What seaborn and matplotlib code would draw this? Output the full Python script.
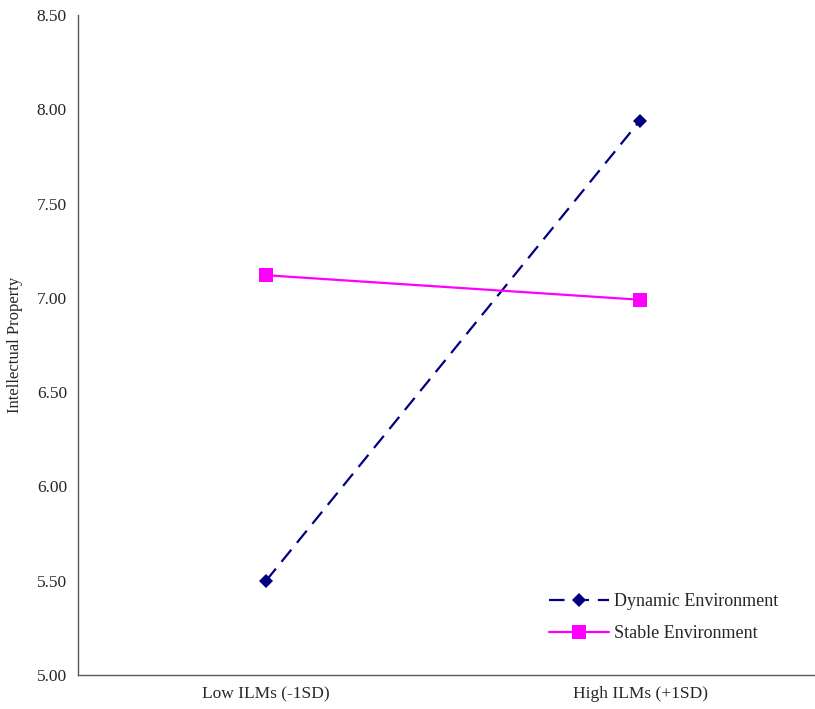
import pandas as pd
import matplotlib
matplotlib.use("Agg")
import matplotlib.pyplot as plt
import seaborn as sns

# Dati del grafico
categorie = ["Low ILMs (-1SD)", "High ILMs (+1SD)"]
dinamico = [5.50, 7.94]
stabile = [7.12, 6.99]
serie = ["Dynamic Environment", "Stable Environment"]
y_ticks = [5.00, 5.50, 6.00, 6.50, 7.00, 7.50, 8.00, 8.50]

df = pd.DataFrame({
    "livello": categorie * 2,
    "valore": dinamico + stabile,
    "serie": [serie[0]] * 2 + [serie[1]] * 2,
})

sns.set_style("white")
plt.rcParams["font.family"] = ["Liberation Serif", "DejaVu Serif"]

fig = plt.figure(figsize=(8.15, 7.09), dpi=100)
ax = fig.add_axes([78 / 815, 34 / 709, 737 / 815, 660 / 709])

sns.lineplot(
    data=df, x="livello", y="valore", hue="serie", style="serie",
    palette={serie[0]: "#000080", serie[1]: "#FF00FF"},
    markers={serie[0]: "D", serie[1]: "s"},
    dashes={serie[0]: (7, 4), serie[1]: ""},
    markersize=10, linewidth=1.6, markeredgewidth=0, ax=ax,
)
# marker diamante piu piccolo
for line in ax.get_lines():
    if line.get_marker() == "D":
        line.set_markersize(7)

ax.set_xlim(-0.503, 1.468)
ax.set_ylim(5.0, 8.5)
ax.set_yticks(y_ticks)
ax.set_yticklabels([f"{v:.2f}" for v in y_ticks])
ax.tick_params(axis="both", labelsize=12.5, length=0, pad=8)
ax.tick_params(axis="x", pad=8)
ax.set_xlabel("")
ax.set_ylabel("Intellectual Property", fontsize=12, labelpad=10)

for s in ["top", "right"]:
    ax.spines[s].set_visible(False)
for s in ["left", "bottom"]:
    ax.spines[s].set_color("#595959")
    ax.spines[s].set_linewidth(1.0)

leg = ax.legend(
    loc="lower left", bbox_to_anchor=(0.617, 0.025), frameon=False,
    fontsize=13, handlelength=3.3, handletextpad=0.3, labelspacing=0.85,
)
for h in leg.legend_handles:
    if h.get_marker() == "D":
        h.set_markersize(7)

plt.savefig("out.png", dpi=100)
